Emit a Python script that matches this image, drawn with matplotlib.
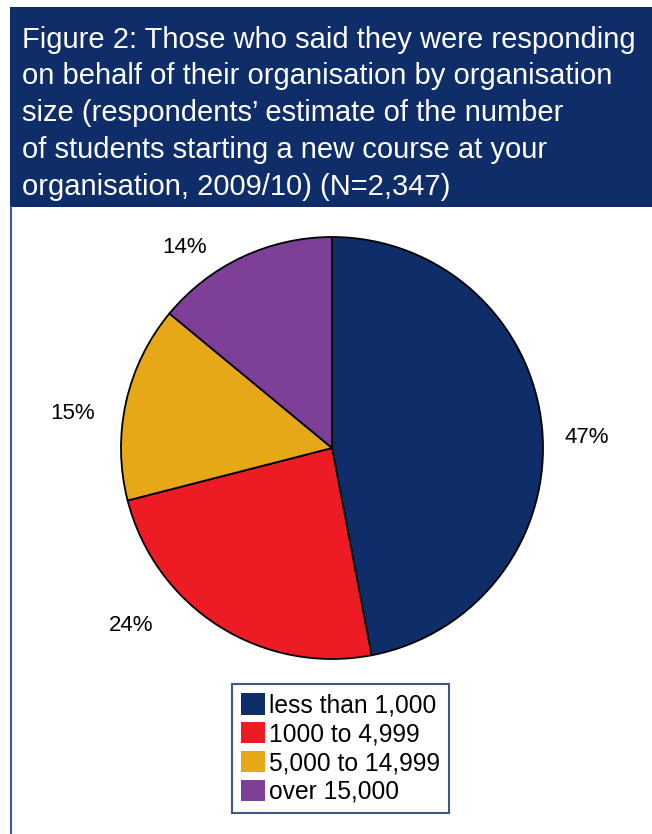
import matplotlib

matplotlib.use("Agg")
import matplotlib.pyplot as plt
import numpy as np
from matplotlib.patches import Patch, Rectangle
from matplotlib.lines import Line2D

NAVY = "#0F2D69"
RED = "#ED1C24"
GOLD = "#E6A817"
PURPLE = "#7D3F98"

W, H = 652, 834

categories = ["less than 1,000", "1000 to 4,999", "5,000 to 14,999", "over 15,000"]
shares = [47, 24, 15, 14]
colors = [NAVY, RED, GOLD, PURPLE]
# label placement tweaks (angle offset in degrees, radius as fraction of pie)
label_dang = [-3, -16, 5, 11]
label_rad = [1.21, 1.27, 1.24, 1.18]

title = ("Figure 2: Those who said they were responding\n"
         "on behalf of their organisation by organisation\n"
         "size (respondents\u2019 estimate of the number\n"
         "of students starting a new course at your\n"
         "organisation, 2009/10) (N=2,347)")

plt.rcParams["font.family"] = ["Liberation Sans", "DejaVu Sans"]

fig = plt.figure(figsize=(W / 100, H / 100), dpi=100, facecolor="white")

# header band + left rule
bg = fig.add_axes([0, 0, 1, 1])
bg.set_xlim(0, W)
bg.set_ylim(H, 0)
bg.axis("off")
bg.add_patch(Rectangle((10, 7), W - 10, 200, facecolor=NAVY, edgecolor="none"))
bg.add_line(Line2D([10.5, 10.5], [207, H], color="#3B5A9A", lw=1.5))
bg.text(22, 25.5, title, color="white", fontsize=21, va="top", ha="left",
        linespacing=1.40)

# pie
cx, cy, r = 332, 448, 211
ax = fig.add_axes([(cx - r) / W, (H - cy - r) / H, 2 * r / W, 2 * r / H])
wedges, _ = ax.pie(shares, colors=colors, startangle=90, counterclock=False,
                   radius=1, wedgeprops=dict(edgecolor="black", linewidth=1.3))
for w, val, da, rr in zip(wedges, shares, label_dang, label_rad):
    ang = np.deg2rad((w.theta1 + w.theta2) / 2 + da)
    ax.text(rr * np.cos(ang), rr * np.sin(ang), f"{val}%", ha="center",
            va="center", fontsize=16)
ax.set_xlim(-1, 1)
ax.set_ylim(-1, 1)
ax.set_aspect("equal")

# legend
handles = [Patch(facecolor=c, edgecolor="none") for c in colors]
leg = fig.legend(handles, categories, loc="upper left",
                 bbox_to_anchor=(232 / W, 1 - 684 / H), frameon=True,
                 fancybox=False, edgecolor=NAVY,
                 handlelength=0.98, handleheight=0.98, handletextpad=0.18,
                 labelspacing=0.19, borderpad=0.36, borderaxespad=0,
                 prop={"size": 17.7})
leg.get_frame().set_linewidth(1.5)

fig.savefig("out.png", dpi=100, facecolor="white")
